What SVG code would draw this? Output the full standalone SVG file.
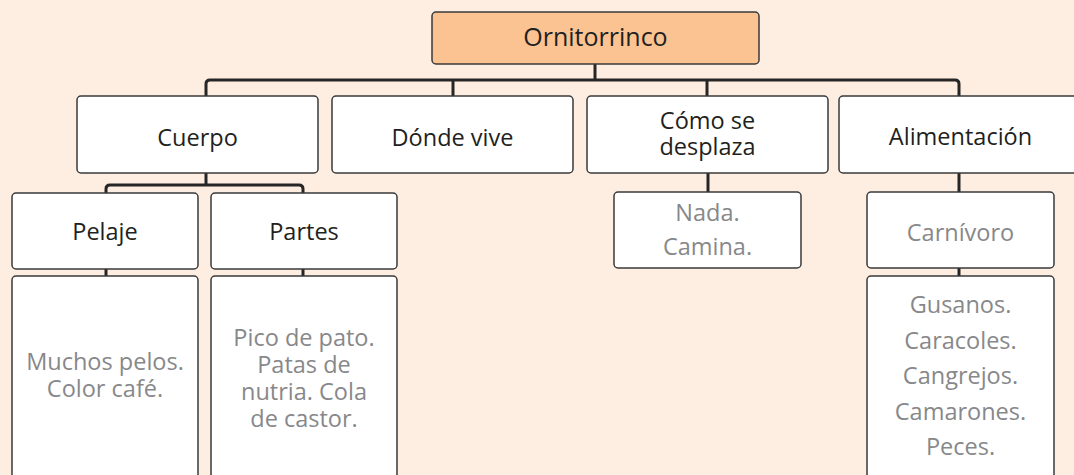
<svg xmlns="http://www.w3.org/2000/svg" width="1074" height="475" viewBox="0 0 1074 475">
<style>
.bg{fill:#FEEDE1}
.box{fill:#FFFFFF;stroke:#3A3A3A;stroke-width:1.5}
.root{fill:#FAC391;stroke:#3A3A3A;stroke-width:1.5}
.conn{fill:none;stroke:#262626;stroke-width:3}
text{font-family:"Open Sans","Noto Sans","Liberation Sans",sans-serif;text-anchor:middle}
.t{font-size:23.5px;fill:#231F20}
.tr{font-size:25px;fill:#231F20}
.d{font-size:23.5px;fill:#87888A}
</style>
<rect class="bg" x="0" y="0" width="1074" height="475"/>
<g id="connectors">
<path class="conn" d="M595 64 V80"/>
<path class="conn" d="M206 96 V84 Q206 80 210 80 H955 Q959 80 959 84 V96"/>
<path class="conn" d="M453 80 V96"/>
<path class="conn" d="M707 80 V96"/>
<path class="conn" d="M206 173 V185"/>
<path class="conn" d="M106 193 V189 Q106 185 110 185 H299 Q303 185 303 189 V193"/>
<path class="conn" d="M106 269 V276"/>
<path class="conn" d="M303 269 V276"/>
<path class="conn" d="M708 173 V192"/>
<path class="conn" d="M959 173 V192"/>
<path class="conn" d="M959 268 V276"/>
</g>
<g id="n-root"><rect class="root" x="432" y="12" width="327" height="52" rx="4"/><text class="tr" x="595.5" y="46">Ornitorrinco</text></g>
<g id="n-cuerpo"><rect class="box" x="77" y="96" width="241" height="77" rx="4"/><text class="t" x="197.5" y="146">Cuerpo</text></g>
<g id="n-donde"><rect class="box" x="332" y="96" width="241" height="77" rx="4"/><text class="t" x="452.5" y="146">Dónde vive</text></g>
<g id="n-como"><rect class="box" x="587" y="96" width="241" height="77" rx="4"/><text class="t" x="707.5" y="129">Cómo se</text><text class="t" x="707.5" y="155">desplaza</text></g>
<g id="n-alim"><rect class="box" x="839" y="96" width="245" height="77" rx="4"/><text class="t" x="960.5" y="145">Alimentación</text></g>
<g id="n-pelaje"><rect class="box" x="12" y="193" width="186" height="76" rx="4"/><text class="t" x="105" y="240">Pelaje</text></g>
<g id="n-partes"><rect class="box" x="211" y="193" width="186" height="76" rx="4"/><text class="t" x="304" y="240">Partes</text></g>
<g id="n-pelaje-d"><rect class="box" x="12" y="276" width="186" height="210" rx="4"/><text class="d" x="105" y="370">Muchos pelos.</text><text class="d" x="105" y="397">Color café.</text></g>
<g id="n-partes-d"><rect class="box" x="211" y="276" width="186" height="210" rx="4"/><text class="d" x="304" y="346">Pico de pato.</text><text class="d" x="304" y="373">Patas de</text><text class="d" x="304" y="400">nutria. Cola</text><text class="d" x="304" y="427">de castor.</text></g>
<g id="n-nada"><rect class="box" x="614" y="192" width="187" height="76" rx="4"/><text class="d" x="707.5" y="221">Nada.</text><text class="d" x="707.5" y="255">Camina.</text></g>
<g id="n-carnivoro"><rect class="box" x="867" y="192" width="187" height="76" rx="4"/><text class="d" x="960.5" y="241">Carnívoro</text></g>
<g id="n-presas"><rect class="box" x="867" y="276" width="187" height="210" rx="4"/><text class="d" x="960.5" y="313">Gusanos.</text><text class="d" x="960.5" y="348.5">Caracoles.</text><text class="d" x="960.5" y="384">Cangrejos.</text><text class="d" x="960.5" y="419.5">Camarones.</text><text class="d" x="960.5" y="455">Peces.</text></g>
</svg>
